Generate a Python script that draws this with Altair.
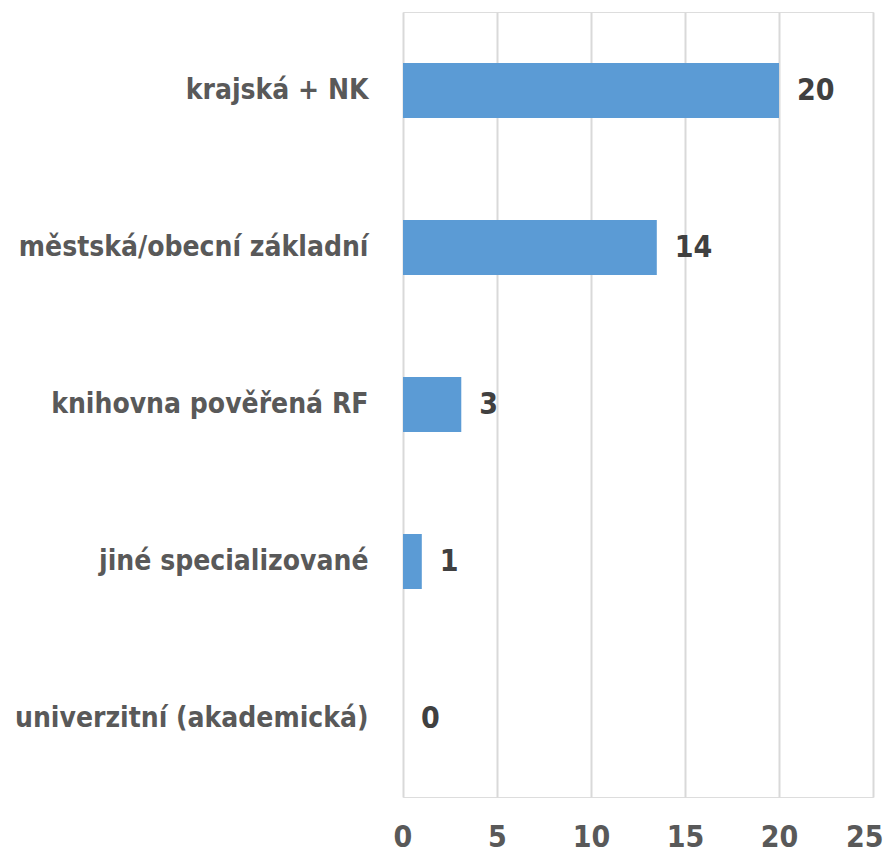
import altair as alt
import pandas as pd

categories = ["krajská + NK", "městská/obecní základní", "knihovna pověřená RF",
              "jiné specializované", "univerzitní (akademická)"]
values = [20, 13.5, 3.1, 1, 0]
x_ticks = [0, 5, 10, 15, 20, 25]

df = pd.DataFrame({"cat": categories, "val": values})

FONT = "DejaVu Sans Condensed, Roboto, sans-serif"

y_enc = alt.Y("cat:N", sort=categories, title=None,
              scale=alt.Scale(paddingInner=0.65, paddingOuter=0.325),
              axis=alt.Axis(domain=False, ticks=False, grid=False,
                            labelFont=FONT, labelFontSize=28, labelFontWeight="bold",
                            labelColor="#595959", labelPadding=35, labelLimit=400))
x_enc = alt.X("val:Q", title=None,
              scale=alt.Scale(domain=[0, 25], nice=False),
              axis=alt.Axis(values=x_ticks, domain=False, ticks=False, grid=True,
                            gridColor="#D9D9D9", gridWidth=2,
                            labelFont=FONT, labelFontSize=30, labelFontWeight="bold",
                            labelColor="#595959", labelPadding=40,
                            labelBaseline="middle", labelFlush=True,
                            labelFlushOffset=10))

bars = alt.Chart(df).mark_bar(color="#5B9BD5").encode(x=x_enc, y=y_enc)
labels = alt.Chart(df).mark_text(align="left", baseline="middle", dx=18,
                                 font=FONT, fontSize=30, fontWeight="bold",
                                 color="#404040").encode(
    x=alt.X("val:Q"), y=alt.Y("cat:N", sort=categories),
    text=alt.Text("val:Q", format=".0f"))

chart = alt.layer(bars, labels).properties(
    width=470, height=785,
    autosize=alt.AutoSizeParams(type="none"),
    padding={"left": 395, "top": 4, "right": 12, "bottom": 56},
).configure_view(stroke=None).configure(background="white")

chart.save("out.html", embed_options={"renderer": "svg", "actions": False})
